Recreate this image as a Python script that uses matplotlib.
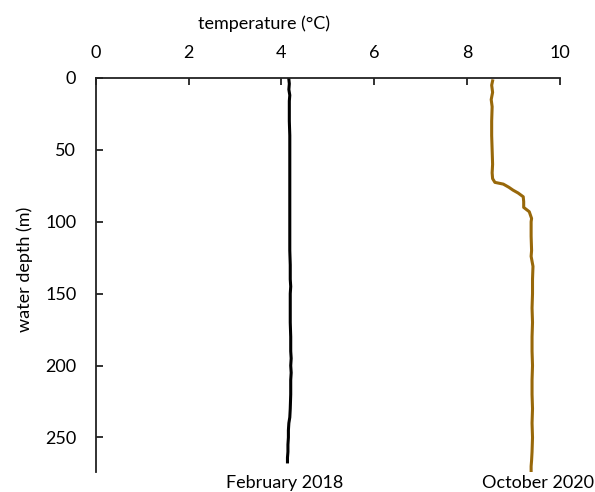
import matplotlib
matplotlib.use("Agg")
import matplotlib.pyplot as plt
import matplotlib.transforms as mtransforms

plt.rcParams["font.family"] = ["Lato", "DejaVu Sans"]
plt.rcParams["font.size"] = 13

# February 2018 profile (depth m, temperature °C)
feb_depth = [1, 4, 8, 12, 16, 20, 30, 40, 50, 60, 70, 80, 90, 100, 110, 120, 130, 140,
             145, 150, 160, 170, 180, 190, 195, 200, 205, 210, 220, 230, 236, 240, 245,
             250, 255, 260, 264, 267]
feb_temp = [4.16, 4.17, 4.16, 4.18, 4.17, 4.17, 4.17, 4.18, 4.18, 4.18, 4.18, 4.18, 4.18,
            4.18, 4.18, 4.18, 4.19, 4.19, 4.20, 4.19, 4.19, 4.19, 4.20, 4.20, 4.21, 4.20,
            4.21, 4.20, 4.20, 4.19, 4.18, 4.16, 4.15, 4.15, 4.14, 4.14, 4.13, 4.13]

# October 2020 profile
oct_depth = [2, 5, 10, 15, 20, 30, 40, 50, 60, 66, 70, 72.6, 73.8, 76, 78, 80, 82.6, 86,
             90, 93, 97.7, 100, 110, 120, 124, 131, 140, 150, 160, 170, 180, 190, 200,
             210, 220, 230, 240, 250, 260, 266, 270, 273]
oct_temp = [8.55, 8.53, 8.55, 8.52, 8.54, 8.53, 8.53, 8.54, 8.55, 8.54, 8.55, 8.60, 8.78,
            8.90, 8.99, 9.10, 9.21, 9.22, 9.22, 9.34, 9.39, 9.38, 9.38, 9.39, 9.38, 9.42,
            9.41, 9.41, 9.40, 9.41, 9.40, 9.40, 9.41, 9.40, 9.40, 9.41, 9.40, 9.41, 9.40,
            9.39, 9.38, 9.38]

labels = ["February 2018", "October 2020"]
label_x = [4.07, 9.53]

fig = plt.figure(figsize=(5.95, 4.92), dpi=100)
ax = fig.add_axes([0.161, 0.0407, 0.780, 0.8008])

ax.plot(feb_temp, feb_depth, color="black", lw=2.2)
ax.plot(oct_temp, oct_depth, color="#98680a", lw=2.2)

ax.set_xlim(0, 10)
ax.set_ylim(274, 0)
ax.set_xticks([0, 2, 4, 6, 8, 10])
ax.set_yticks([0, 50, 100, 150, 200, 250])

ax.xaxis.tick_top()
ax.xaxis.set_label_position("top")
ax.set_xlabel("temperature (°C)", labelpad=12, x=0.362)
ax.set_ylabel("water depth (m)", labelpad=9, y=0.513)

for side in ["right", "bottom"]:
    ax.spines[side].set_visible(False)
for side in ["left", "top"]:
    ax.spines[side].set_linewidth(1.3)
    ax.spines[side].set_color("#222222")

ax.tick_params(axis="both", direction="in", length=5, width=1.3, color="#222222")
ax.tick_params(axis="x", pad=12)
ax.tick_params(axis="y", pad=14)

trans = mtransforms.blended_transform_factory(ax.transData, ax.transAxes)
for x, lab in zip(label_x, labels):
    ax.text(x, -0.028, lab, transform=trans, ha="center", va="center", clip_on=False)

fig.savefig("out.png", dpi=100)
